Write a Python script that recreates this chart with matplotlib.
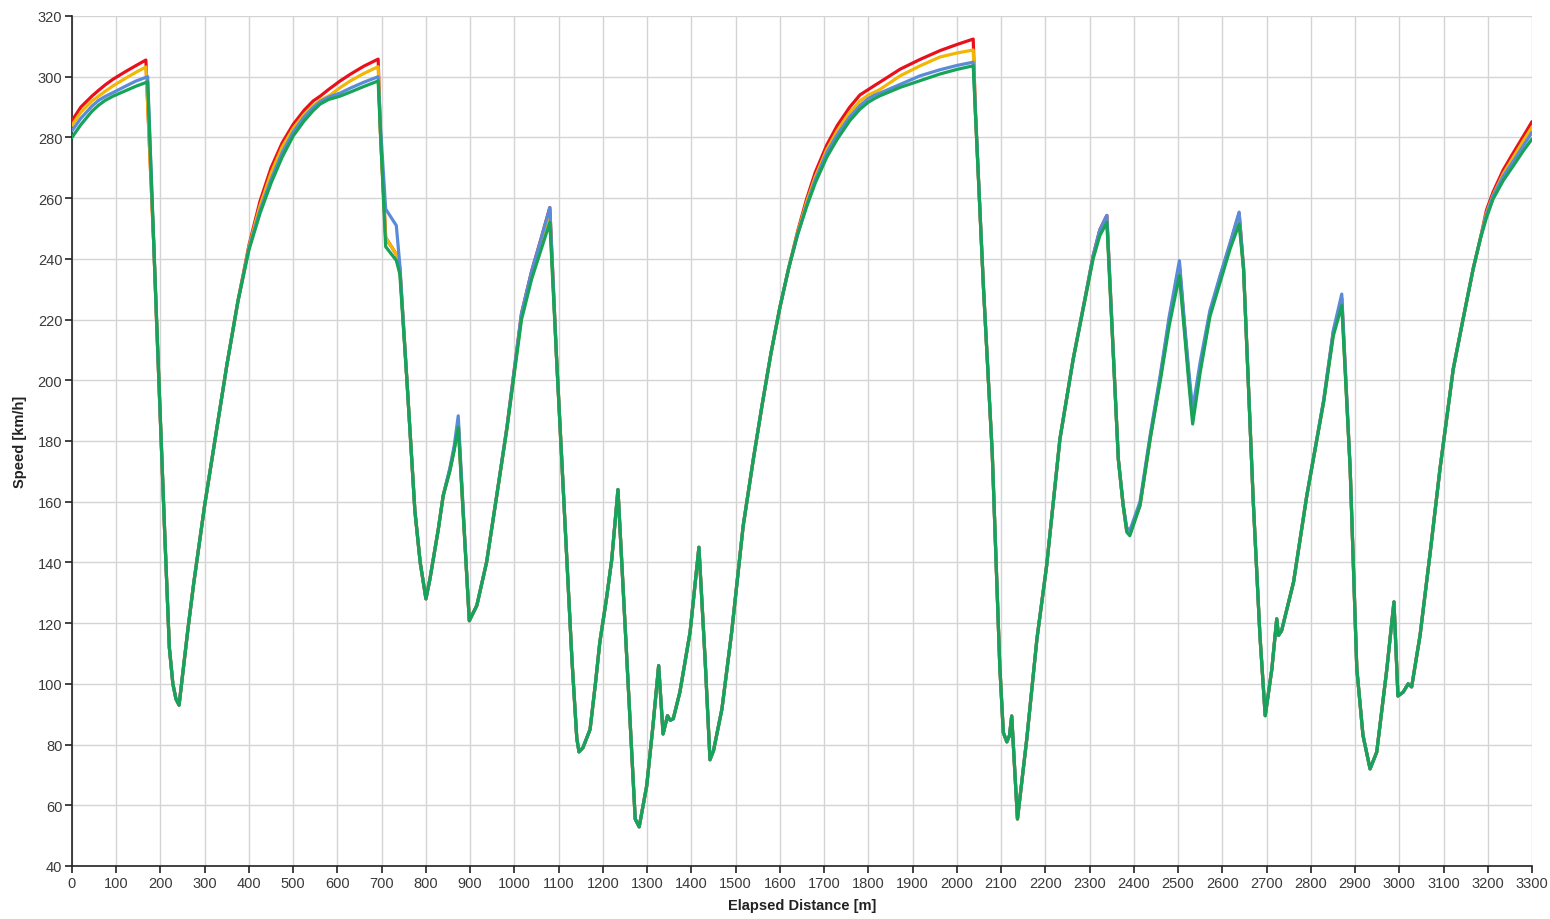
import matplotlib
matplotlib.use("Agg")
import matplotlib.pyplot as plt

# ---------------- data ----------------
distance = [
    # segment A
    0, 20, 45, 60, 75, 93, 120, 145, 167, 171, 185, 191, 210, 220, 228, 235, 242,
    # segment B
    250, 262, 275, 300, 325, 350, 375, 400, 425, 450, 475, 500, 525, 545, 561, 580, 606, 630, 660, 692, 697,
    # segment C
    709, 733, 741, 757, 775, 787, 800, 809, 828, 839, 854, 864, 873, 884, 898, 915, 937, 960, 983, 998,
    1016, 1039, 1058, 1080,
    # segment D
    1095, 1110, 1130, 1141, 1146, 1155, 1171, 1183, 1193, 1208, 1220, 1234, 1254, 1273, 1282, 1299,
    1313, 1326, 1336, 1346, 1352, 1359, 1374, 1397, 1417, 1431, 1442, 1450, 1469, 1491, 1517, 1540,
    # segment E
    1560, 1580, 1600, 1620, 1640, 1660, 1680, 1706, 1730, 1758, 1781, 1800, 1815, 1826, 1872, 1917,
    1962, 2000, 2037, 2042,
    # segment F
    2060, 2080, 2097, 2105, 2113, 2119, 2124, 2137, 2158, 2181, 2203, 2233, 2263, 2293, 2308, 2323,
    2339, 2352, 2365, 2376, 2384, 2391, 2414, 2437, 2460, 2480, 2503, 2515, 2525, 2533, 2550, 2572,
    2595, 2617, 2638, 2648, 2670, 2685, 2697, 2712, 2723, 2727, 2734, 2761, 2791, 2829, 2851, 2870,
    2889, 2904, 2918, 2934, 2949, 2972, 2988, 2997, 3009, 3020, 3028, 3047, 3070, 3092, 3122, 3144,
    3167, 3183, 3197, 3212, 3235, 3258, 3280, 3300,
]

speed_green = [
    280, 284.2, 288.6, 290.6, 292.2, 293.6, 295.3, 296.9, 298.1, 298.3, 244, 220, 148, 112, 100, 95, 93,
    103, 118, 133, 159, 182, 205, 226, 243, 255, 265, 273.5, 280.5, 285.5, 288.8, 291, 292.5, 293.6, 295, 296.8, 298.6, 282,
    244, 239.5, 235, 200, 157, 140, 128, 134.5, 151, 162, 170, 177, 184.5, 156.6, 120.8, 125.8, 140, 162, 184, 200.4,
    220, 233.4, 242, 252,
    208, 165, 108, 82, 77.6, 79, 85, 100, 113.7, 128, 141, 164, 108, 55.5, 52.9, 66.4,
    86, 106, 83.5, 89.5, 88, 88.5, 97.3, 117, 145, 108, 75, 78, 91.7, 117, 152, 174,
    192, 209, 224, 237, 248, 257, 265, 273.5, 279.5, 285.5, 289.3, 291.6, 292.9, 293.7, 296.5, 298.7,
    300.9, 302.4, 303.6, 288,
    231, 176, 106, 84, 80.9, 83, 89.4, 55.5, 81.8, 114.8, 139, 180.7, 207, 229, 240, 247.6,
    252, 213, 174, 158.7, 150, 148.8, 158.7, 180.7, 200, 218, 234.5, 215, 198, 185.6, 202.6, 221,
    232.3, 243, 251.5, 236.7, 160, 116, 89.5, 104.9, 121.4, 116, 117.5, 133.5, 162, 192.8, 214.7, 224.6,
    170.8, 105, 83, 72, 77.5, 105, 127, 96, 97.3, 100, 99, 116, 143.4, 170.8, 203.7, 220,
    236.7, 246.5, 253.5, 259.7, 265.8, 270.7, 275.5, 279.5,
]

speed_blue = [
    282.2, 286.3, 290.3, 292.2, 293.5, 294.8, 296.8, 298.6, 299.8, 300, 244, 220, 148, 112, 100, 95, 93,
    103, 118, 133, 159, 182, 205, 226, 243.5, 256, 266.2, 275, 281.8, 286.8, 289.8, 291.8, 293.3, 294.6, 296.3, 298.2, 300, 284,
    256.4, 251, 238, 200, 157, 140, 128, 134.5, 151, 162, 171, 178.5, 188.3, 158, 120.8, 125.8, 140, 162, 184.5, 201.5,
    222, 236, 245.5, 256.9,
    208, 165, 108, 82, 77.6, 79, 85, 100, 113.7, 128, 141, 164, 108, 55.5, 52.9, 66.4,
    86, 106, 83.5, 89.5, 88, 88.5, 97.3, 117, 145, 108, 75, 78, 91.7, 117, 152, 174,
    192, 209, 224, 237, 248, 257.5, 266, 275, 281, 286.8, 290.5, 292.8, 294.0, 294.6, 297.5, 300.3,
    302.3, 303.7, 304.8, 289,
    231, 176, 106, 84, 80.9, 83, 89.4, 55.5, 81.8, 114.8, 139, 180.7, 207, 229.5, 241, 249.5,
    254.3, 214, 174, 159, 151.5, 150.5, 160, 182, 202, 221, 239.4, 218, 202, 190.5, 206, 223,
    234.5, 245, 255.4, 237, 160, 116, 89.5, 104.9, 121.4, 116, 117.5, 133.5, 162, 193.5, 216.5, 228.4,
    171, 105, 83, 72, 77.5, 105, 127, 96, 97.3, 100, 99, 116, 143.4, 170.8, 203.7, 220,
    236.7, 246.5, 254.5, 260.7, 267.2, 272.2, 277.2, 281.7,
]

speed_orange = [
    284, 288.3, 292.0, 293.6, 295.2, 297.0, 299.4, 301.5, 303.2, 291, 244, 220, 148, 112, 100, 95, 93,
    103, 118, 133, 159, 182, 205, 226, 244, 257.5, 268.3, 276.8, 283, 287.6, 290.5, 292.3, 293.6, 296.4, 298.7, 301.1, 303.3, 282,
    247, 241.5, 237, 200, 157, 140, 128, 134.5, 151, 162, 170.5, 177.5, 186, 157, 120.8, 125.8, 140, 162, 184, 200.8,
    221, 234.5, 243.5, 254,
    208, 165, 108, 82, 77.6, 79, 85, 100, 113.7, 128, 141, 164, 108, 55.5, 52.9, 66.4,
    86, 106, 83.5, 89.5, 88, 88.5, 97.3, 117, 145, 108, 75, 78, 91.7, 117, 152, 174,
    192, 209, 224, 237, 248.5, 258.5, 267, 276, 282.3, 288.3, 292, 294, 295, 295.8, 300.3, 303.6,
    306.5, 307.8, 308.8, 288,
    231, 176, 106, 84, 80.9, 83, 89.4, 55.5, 81.8, 114.8, 139, 180.7, 207, 229, 240.5, 248.5,
    253, 213.5, 174, 158.7, 150.5, 149.5, 159, 181, 201, 219.5, 236, 216.5, 200, 188, 204, 222,
    233.3, 244, 253, 236.7, 160, 116, 89.5, 104.9, 121.4, 116, 117.5, 133.5, 162, 193, 215.5, 226,
    170.8, 105, 83, 72, 77.5, 105, 127, 96, 97.3, 100, 99, 116, 143.4, 170.8, 203.7, 220,
    236.7, 246.5, 255, 261, 268, 273.5, 278.8, 283.4,
]

speed_red = [
    285.5, 290, 293.6, 295.5, 297.3, 299.2, 301.6, 303.7, 305.5, 291, 244, 220, 148, 112, 100, 95, 93,
    103, 118, 133, 159, 182, 205, 226, 244.5, 259, 270, 278.2, 284.3, 289, 292, 293.6, 295.8, 298.6, 300.9, 303.5, 305.8, 282,
    247, 241.5, 237, 200, 157, 140, 128, 134.5, 151, 162, 170.5, 177.5, 186, 157, 120.8, 125.8, 140, 162, 184.5, 201.5,
    222, 236, 245.5, 256.9,
    208, 165, 108, 82, 77.6, 79, 85, 100, 113.7, 128, 141, 164, 108, 55.5, 52.9, 66.4,
    86, 106, 83.5, 89.5, 88, 88.5, 97.3, 117, 145, 108, 75, 78, 91.7, 117, 152, 174,
    192, 209, 224, 237, 249, 259.5, 268.5, 277.5, 284, 290, 294, 295.8, 297.2, 298.2, 302.5, 305.7,
    308.6, 310.6, 312.4, 288,
    231, 176, 106, 84, 80.9, 83, 89.4, 55.5, 81.8, 114.8, 139, 180.7, 207, 229.5, 241, 249.5,
    254.3, 214, 174, 158.7, 150.5, 149.5, 159, 181, 201, 220, 238, 217, 200, 188, 204, 222,
    234, 244.5, 255, 237, 160, 116, 89.5, 104.9, 121.4, 116, 117.5, 133.5, 162, 193, 216, 227,
    170.8, 105, 83, 72, 77.5, 105, 127, 96, 97.3, 100, 99, 116, 143.4, 170.8, 203.7, 220,
    236.7, 246.5, 256, 262, 269.3, 275, 280.3, 285.2,
]

x_ticks = list(range(0, 3301, 100))
y_ticks = list(range(40, 321, 20))

series = [
    (speed_red, "#e8111b"),
    (speed_orange, "#f2b705"),
    (speed_blue, "#5b8bd8"),
    (speed_green, "#17a35a"),
]

# ---------------- drawing ----------------
plt.rcParams["font.family"] = ["Liberation Sans", "DejaVu Sans"]

fig = plt.figure(figsize=(15.5, 9.2), dpi=100)
ax = fig.add_axes([72 / 1550, 1 - 867 / 920, (1532 - 72) / 1550, (867 - 17) / 920])

for spd, col in series:
    ax.plot(distance, spd, color=col, lw=2.3, solid_joinstyle="round", solid_capstyle="round", zorder=3)

ax.set_xlim(0, 3300)
ax.set_ylim(40, 320)
ax.set_xticks(x_ticks)
ax.set_yticks(y_ticks)
ax.grid(True, color="#d4d4d4", lw=1.0, zorder=0)
ax.set_axisbelow(True)

for side in ("top", "right"):
    ax.spines[side].set_visible(False)
for side in ("left", "bottom"):
    ax.spines[side].set_color("#222222")
    ax.spines[side].set_linewidth(1.2)

ax.tick_params(axis="both", direction="out", length=5, width=1.2, color="#222222",
               labelsize=10.5, labelcolor="#3a3a3a", pad=2)

ax.set_xlabel("Elapsed Distance [m]", fontsize=10.5, fontweight="bold", color="#222222", labelpad=6)
ax.set_ylabel("Speed [km/h]", fontsize=10.5, fontweight="bold", color="#222222", labelpad=8)

fig.savefig("out.png", dpi=100, facecolor="white")
